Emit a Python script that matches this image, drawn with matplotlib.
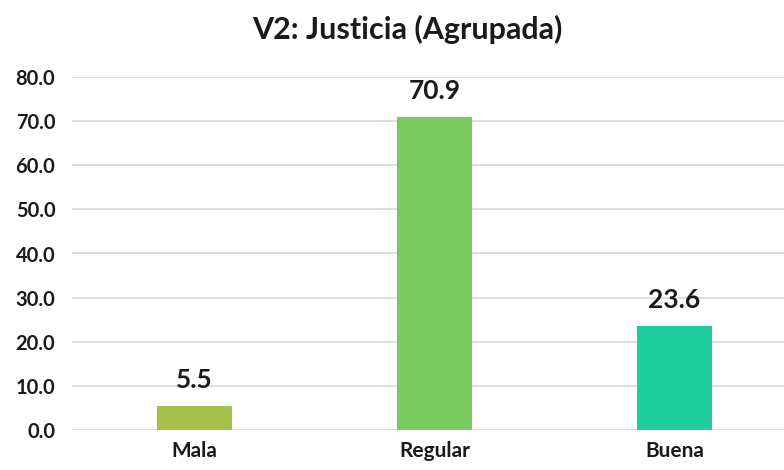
import matplotlib.pyplot as plt

# Datos
categorias = ["Mala", "Regular", "Buena"]
valores = [5.5, 70.9, 23.6]
colores = ["#a5c14b", "#7ac95e", "#1dcd9b"]
ticks_y = [0, 10, 20, 30, 40, 50, 60, 70, 80]

plt.rcParams['font.family'] = ['Lato', 'DejaVu Sans']

fig = plt.figure(figsize=(7.84, 4.70), dpi=100)
ax = fig.add_axes([72/784, 40/470, 1 - 72/784, (430-77)/470])

x = list(range(len(categorias)))
barras = ax.bar(x, valores, width=0.31, color=colores, zorder=3)

# Etiquetas de valor sobre las barras
for b, v in zip(barras, valores):
    ax.annotate(f"{v:.1f}", (b.get_x() + b.get_width()/2, v),
                xytext=(0, 10), textcoords="offset points",
                ha="center", va="bottom", fontsize=19, fontweight="bold", color="#1a1a1a")

ax.set_xlim(-0.51, 2.456)
ax.set_ylim(0, 80)
ax.set_yticks(ticks_y)
ax.set_yticklabels([f"{t:.1f}" for t in ticks_y], fontsize=14.5, fontweight="bold", color="#1a1a1a")
ax.set_xticks(x)
ax.set_xticklabels(categorias, fontsize=15, fontweight="bold", color="#1a1a1a")
ax.tick_params(axis="y", length=0, pad=12)
ax.tick_params(axis="x", length=0, pad=8)

ax.grid(axis="y", color="#d9d9d9", linewidth=1.2, zorder=0)
for s in ax.spines.values():
    s.set_visible(False)

fig.text(407/784, 1 - 29/470, "V2: Justicia (Agrupada)", ha="center", va="center",
         fontsize=22, fontweight="bold", color="#1a1a1a")

fig.savefig("out.png", dpi=100)
